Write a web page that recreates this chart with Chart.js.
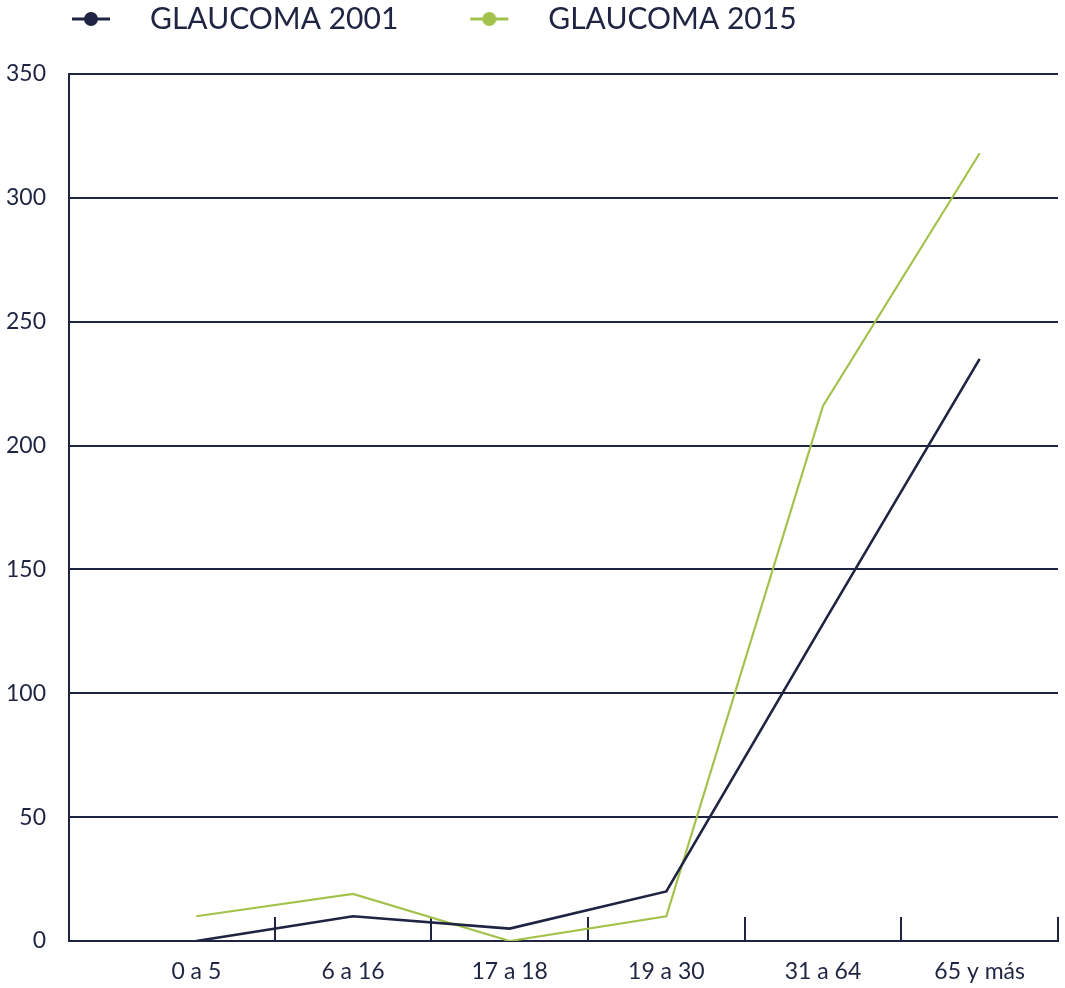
<!DOCTYPE html>
<html lang="es">
<head>
<meta charset="utf-8">
<title>Glaucoma 2001 - 2015</title>
<script src="https://cdn.jsdelivr.net/npm/chart.js@4.4.1/dist/chart.umd.min.js"></script>
<style>
  html, body { margin: 0; padding: 0; background: #fff; }
</style>
</head>
<body>
<canvas id="glaucomaChart" width="1065" height="988"></canvas>
<script>
'use strict';

const ageGroups = ['0 a 5', '6 a 16', '17 a 18', '19 a 30', '31 a 64', '65 y más'];
const glaucoma2001 = [0, 10, 5, 20, 128, 235];
const glaucoma2015 = [10, 19, 0, 10, 216, 318];
const yTicks = [0, 50, 100, 150, 200, 250, 300, 350];

const NAVY = '#1e2442';
const GREEN = '#a3c24b';
const FONT = 'Lato, "Open Sans", sans-serif';
const AXIS_GAP = 49;      // vertical axis sits left of the first category
const TICK_HEIGHT = 24;   // inward tick marks on the x axis

// line + dot marker used in the legend
const legendMarker = (color) => {
  const c = document.createElement('canvas');
  c.width = 131;
  c.height = 20;
  const g = c.getContext('2d');
  g.strokeStyle = color;
  g.lineWidth = 3;
  g.beginPath();
  g.moveTo(68, 10);
  g.lineTo(106, 10);
  g.stroke();
  g.fillStyle = color;
  g.beginPath();
  g.arc(87, 10, 7, 0, Math.PI * 2);
  g.fill();
  return c;
};

const axisMarks = {
  id: 'axisMarks',
  beforeDatasetsDraw(chart) {
    const { ctx, chartArea, scales: { x, y } } = chart;
    ctx.save();
    ctx.strokeStyle = NAVY;
    ctx.lineWidth = 2;
    ctx.beginPath();
    const axisX = chartArea.left - AXIS_GAP;
    ctx.moveTo(axisX, y.getPixelForValue(y.max) - 1);
    ctx.lineTo(axisX, y.getPixelForValue(0) + 1);
    for (let i = 1; i <= ageGroups.length; i++) {
      const px = i < ageGroups.length
        ? Math.round((x.getPixelForValue(i - 1) + x.getPixelForValue(i)) / 2)
        : chartArea.right;
      ctx.moveTo(px, chartArea.bottom);
      ctx.lineTo(px, chartArea.bottom - TICK_HEIGHT);
    }
    ctx.stroke();
    ctx.restore();
  }
};

const legendHeight = {
  id: 'legendHeight',
  beforeInit(chart) {
    const fit = chart.legend.fit;
    chart.legend.fit = function () {
      fit.bind(chart.legend)();
      this.height = 74;
    };
  }
};

const ctx = document.getElementById('glaucomaChart').getContext('2d');

new Chart(ctx, {
  type: 'line',
  data: {
    labels: ageGroups,
    datasets: [
      {
        label: 'GLAUCOMA 2001',
        data: glaucoma2001,
        borderColor: NAVY,
        backgroundColor: NAVY,
        borderWidth: 2.6,
        pointRadius: 0,
        tension: 0
      },
      {
        label: 'GLAUCOMA 2015',
        data: glaucoma2015,
        borderColor: GREEN,
        backgroundColor: GREEN,
        borderWidth: 2.2,
        pointRadius: 0,
        tension: 0
      }
    ]
  },
  options: {
    responsive: false,
    animation: false,
    devicePixelRatio: 1,
    layout: { padding: { left: 0, right: 7, top: 0, bottom: 0 } },
    plugins: {
      tooltip: { enabled: false },
      legend: {
        position: 'top',
        align: 'start',
        labels: {
          usePointStyle: true,
          pointStyleWidth: 131,
          padding: 4,
          color: NAVY,
          font: { family: FONT, size: 30 },
          generateLabels: (chart) => chart.data.datasets.map((ds, i) => ({
            text: ds.label,
            fillStyle: ds.borderColor,
            strokeStyle: ds.borderColor,
            lineWidth: 0,
            hidden: false,
            datasetIndex: i,
            fontColor: NAVY,
            pointStyle: legendMarker(ds.borderColor)
          }))
        }
      }
    },
    scales: {
      x: {
        offset: true,
        grid: { display: false, drawTicks: false },
        border: { display: true, color: NAVY, width: 2 },
        ticks: {
          color: NAVY,
          padding: 17,
          font: { family: FONT, size: 23 },
          maxRotation: 0
        },
        afterFit: (scale) => { scale.height = 47; }
      },
      y: {
        min: 0,
        max: 350,
        afterBuildTicks: (scale) => { scale.ticks = yTicks.map(v => ({ value: v })); },
        grid: {
          color: NAVY,
          lineWidth: 2,
          tickLength: AXIS_GAP,
          drawTicks: true
        },
        border: { display: false },
        ticks: {
          color: NAVY,
          padding: 23,
          font: { family: FONT, size: 23 }
        },
        afterFit: (scale) => { scale.width = 118; }
      }
    }
  },
  plugins: [axisMarks, legendHeight]
});
</script>
</body>
</html>
